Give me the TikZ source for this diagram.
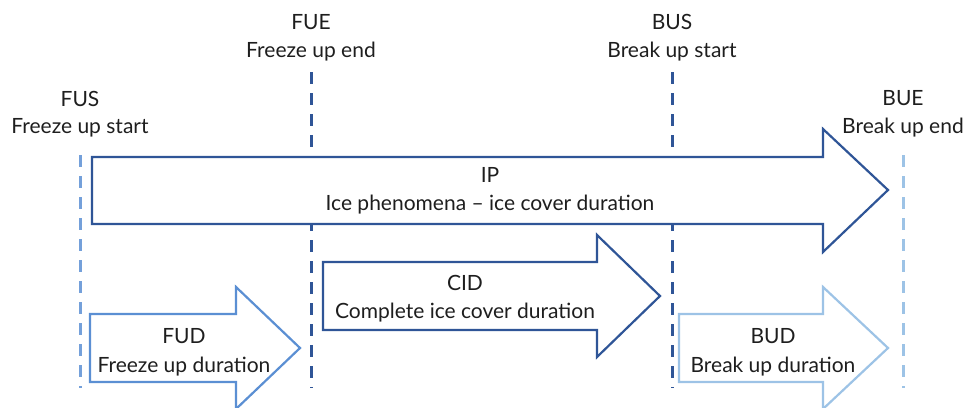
\documentclass[tikz,border=0pt]{standalone}
\usepackage{fontspec}
\setmainfont{Lato}
\usetikzlibrary{positioning}
\definecolor{IceDark}{HTML}{2F5597}
\definecolor{IceMid}{HTML}{5B8FD3}
\definecolor{IceLight}{HTML}{9DC3E6}
\definecolor{Ink}{HTML}{1E1E1E}

\begin{document}
\begin{tikzpicture}[x=1pt,y=-1pt,
    abbr/.style={font=\fontsize{21}{24}\selectfont,text=Ink,inner sep=0pt,anchor=base},
    desc/.style={font=\fontsize{21}{24}\selectfont,text=Ink,inner sep=0pt,anchor=base},
    limitline/.style={line width=3pt,dash pattern=on 12pt off 9pt},
    blockarrow/.style={line width=2.2pt,fill=white,line join=miter}]
    \useasboundingbox (0,0) rectangle (966,407);
    % dashed limits
    \coordinate (fus top) at (80,155);  \coordinate (fus bot) at (80,388);
    \coordinate (fue top) at (311,72);  \coordinate (fue bot) at (311,388);
    \coordinate (bus top) at (672,72);  \coordinate (bus bot) at (672,388);
    \coordinate (bue top) at (903,155); \coordinate (bue bot) at (903,388);
    \draw[limitline,draw=IceMid!85] (fus top) -- (fus bot);
    \draw[limitline,draw=IceDark] (fue top) -- (fue bot);
    \draw[limitline,draw=IceDark] (bus top) -- (bus bot);
    \draw[limitline,draw=IceLight] (bue top) -- (bue bot);
    % arrows
    \draw[blockarrow,draw=IceDark] (92,157)--(823,157)--(823,129)--(888,190)--(823,252)--(823,224)--(92,224)--cycle;
    \draw[blockarrow,draw=IceDark] (323,262)--(597,262)--(597,235)--(660,296)--(597,357)--(597,330)--(323,330)--cycle;
    \draw[blockarrow,draw=IceMid] (90,314)--(236,314)--(236,287)--(300,348)--(236,409)--(236,382)--(90,382)--cycle;
    \draw[blockarrow,draw=IceLight] (679,314)--(823,314)--(823,287)--(888,348)--(823,409)--(823,382)--(679,382)--cycle;
    % limit labels
    \node[abbr] (fus) at (80,106) {FUS};
    \node[desc] (fus text) at (80,133) {Freeze up start};
    \node[abbr] (fue) at (311,29) {FUE};
    \node[desc] (fue text) at (311,57) {Freeze up end};
    \node[abbr] (bus) at (672,29) {BUS};
    \node[desc] (bus text) at (672,57) {Break up start};
    \node[abbr] (bue) at (903,105) {BUE};
    \node[desc] (bue text) at (903,133) {Break up end};
    % duration labels
    \node[abbr] (ip) at (490,182) {IP};
    \node[desc] (ip text) at (490,210) {Ice phenomena – ice cover duration};
    \node[abbr] (cid) at (465,290) {CID};
    \node[desc] (cid text) at (465,318) {Complete ice cover duration};
    \node[abbr] (fud) at (184,343) {FUD};
    \node[desc] (fud text) at (184,372) {Freeze up duration};
    \node[abbr] (bud) at (773,343) {BUD};
    \node[desc] (bud text) at (773,372) {Break up duration};
\end{tikzpicture}
\end{document}
